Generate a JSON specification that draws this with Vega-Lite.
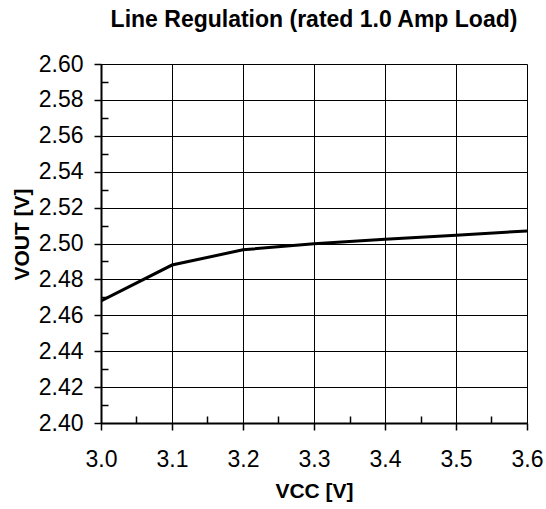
{
  "$schema": "https://vega.github.io/schema/vega-lite/v6.json",
  "autosize": {"type": "none"},
  "width": 426,
  "height": 359,
  "padding": {"left": 101, "top": 64, "right": 19, "bottom": 86},
  "background": "white",
  "config": {
    "font": "Liberation Sans",
    "view": {"stroke": null}
  },
  "title": {
    "text": "Line Regulation (rated 1.0 Amp Load)",
    "fontSize": 23,
    "fontWeight": "bold",
    "font": "Liberation Sans",
    "color": "black",
    "anchor": "middle",
    "offset": 21
  },
  "data": {
    "values": [
      {"vcc": 3.0, "vout": 2.468},
      {"vcc": 3.1, "vout": 2.488},
      {"vcc": 3.2, "vout": 2.4965},
      {"vcc": 3.3, "vout": 2.4998},
      {"vcc": 3.4, "vout": 2.5023},
      {"vcc": 3.5, "vout": 2.5046},
      {"vcc": 3.6, "vout": 2.507}
    ]
  },
  "mark": {"type": "line", "color": "black", "strokeWidth": 3, "clip": true},
  "encoding": {
    "x": {
      "field": "vcc",
      "type": "quantitative",
      "scale": {"domain": [3.0, 3.6], "nice": false, "zero": false},
      "axis": {
        "title": "VCC [V]",
        "titleFontSize": 21,
        "titleFontWeight": "bold",
        "titleColor": "black",
        "titlePadding": 9,
        "values": [3.0, 3.05, 3.1, 3.15, 3.2, 3.25, 3.3, 3.35, 3.4, 3.45, 3.5, 3.55, 3.6],
        "labelExpr": "abs(datum.value*10 - round(datum.value*10)) < 0.01 ? format(datum.value, '.1f') : ''",
        "labelFontSize": 23,
        "labelColor": "black",
        "labelPadding": 18,
        "labelFlush": false,
        "labelOverlap": false,
        "domainColor": "black",
        "domainWidth": 2,
        "tickColor": "black",
        "tickWidth": 1.5,
        "tickSize": {"condition": {"test": "abs(datum.value*10 - round(datum.value*10)) < 0.01", "value": 7}, "value": -7},
        "grid": true,
        "gridColor": "black",
        "gridWidth": 1,
        "gridOpacity": {"condition": {"test": "abs(datum.value*10 - round(datum.value*10)) < 0.01", "value": 1}, "value": 0}
      }
    },
    "y": {
      "field": "vout",
      "type": "quantitative",
      "scale": {"domain": [2.4, 2.6], "nice": false, "zero": false},
      "axis": {
        "title": "VOUT [V]",
        "titleFontSize": 21,
        "titleFontWeight": "bold",
        "titleColor": "black",
        "titlePadding": 6,
        "titleY": 170,
        "values": [2.40, 2.41, 2.42, 2.43, 2.44, 2.45, 2.46, 2.47, 2.48, 2.49, 2.50, 2.51, 2.52, 2.53, 2.54, 2.55, 2.56, 2.57, 2.58, 2.59, 2.60],
        "labelExpr": "abs(datum.value*50 - round(datum.value*50)) < 0.01 ? format(datum.value, '.2f') : ''",
        "labelFontSize": 23,
        "labelColor": "black",
        "labelPadding": 11,
        "labelFlush": false,
        "labelOverlap": false,
        "domainColor": "black",
        "domainWidth": 2,
        "tickColor": "black",
        "tickWidth": 1.5,
        "tickSize": {"condition": {"test": "abs(datum.value*50 - round(datum.value*50)) < 0.01", "value": 7}, "value": -7},
        "grid": true,
        "gridColor": "black",
        "gridWidth": 1,
        "gridOpacity": {"condition": {"test": "abs(datum.value*50 - round(datum.value*50)) < 0.01", "value": 1}, "value": 0}
      }
    }
  }
}
